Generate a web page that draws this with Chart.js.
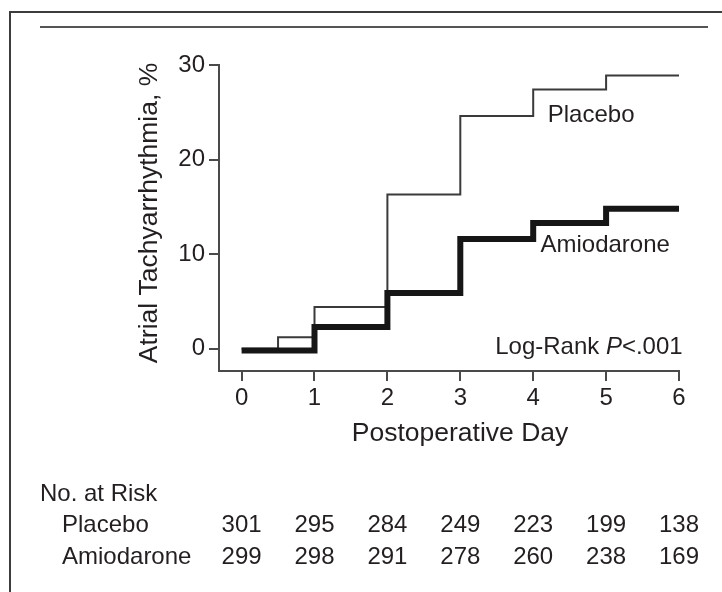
<!DOCTYPE html>
<html>
<head>
<meta charset="utf-8">
<script src="https://cdn.jsdelivr.net/npm/chart.js@4"></script>
<style>
  html, body { margin: 0; padding: 0; background: #fff; }
  #wrap { width: 722px; height: 592px; }
</style>
</head>
<body>
<div id="wrap"><canvas id="km" width="722" height="592"></canvas></div>
<script>
// eixo X: dias de pós-operatório
const days = [0, 1, 2, 3, 4, 5, 6];
const yTicks = [0, 10, 20, 30];

// curvas em degrau (x onde muda, % acumulado)
const placeboX = [0, 0.5, 1, 2, 3, 4, 5, 6];
const placeboPct = [0, 1.2, 4.4, 16.3, 24.6, 27.4, 28.9, 28.9];
const amioX = [0, 1, 2, 3, 4, 5, 6];
const amioPct = [-0.2, 2.3, 5.9, 11.6, 13.3, 14.8, 14.8];

// número em risco
const riskLabels = ['Placebo', 'Amiodarone'];
const riskPlacebo = [301, 295, 284, 249, 223, 199, 138];
const riskAmio = [299, 298, 291, 278, 260, 238, 169];

const FONT = '"Liberation Sans", Arial, Helvetica, sans-serif';
const INK = '#231f20';

const extras = {
  id: 'extras',
  afterDraw(chart) {
    const ctx = chart.ctx;
    const xs = chart.scales.x;
    const ys = chart.scales.y;
    ctx.save();

    // moldura e régua do topo
    ctx.strokeStyle = '#3c3c3c';
    ctx.lineWidth = 2;
    ctx.beginPath();
    ctx.moveTo(10, 592);
    ctx.lineTo(10, 12);
    ctx.lineTo(722, 12);
    ctx.stroke();
    ctx.strokeStyle = '#555';
    ctx.beginPath();
    ctx.moveTo(40, 27);
    ctx.lineTo(708, 27);
    ctx.stroke();

    ctx.fillStyle = INK;
    ctx.textBaseline = 'alphabetic';

    // títulos dos eixos
    ctx.font = '26.5px ' + FONT;
    ctx.textAlign = 'center';
    ctx.fillText('Postoperative Day', 460, 441);
    ctx.save();
    ctx.translate(157, 213);
    ctx.rotate(-Math.PI / 2);
    ctx.fillText('Atrial Tachyarrhythmia, %', 0, 0);
    ctx.restore();

    // rótulos das curvas
    ctx.font = '24px ' + FONT;
    ctx.textAlign = 'left';
    ctx.fillText('Placebo', xs.getPixelForValue(4.2), ys.getPixelForValue(24.0));
    ctx.fillText('Amiodarone', xs.getPixelForValue(4.1), ys.getPixelForValue(10.2));

    // Log-Rank P<.001 (P em itálico)
    const right = xs.getPixelForValue(6.05);
    const by = ys.getPixelForValue(-0.56);
    const normal = '24px ' + FONT;
    const italic = 'italic 24px ' + FONT;
    ctx.font = normal;
    const w1 = ctx.measureText('Log-Rank ').width;
    const w3 = ctx.measureText('<.001').width;
    ctx.font = italic;
    const w2 = ctx.measureText('P').width;
    let x0 = right - (w1 + w2 + w3);
    ctx.font = normal;
    ctx.fillText('Log-Rank ', x0, by);
    ctx.font = italic;
    ctx.fillText('P', x0 + w1, by);
    ctx.font = normal;
    ctx.fillText('<.001', x0 + w1 + w2, by);

    // tabela de número em risco
    ctx.fillText('No. at Risk', 40, 501);
    ctx.fillText(riskLabels[0], 62, 532);
    ctx.fillText(riskLabels[1], 62, 564);
    ctx.textAlign = 'center';
    days.forEach((d, i) => {
      const px = xs.getPixelForValue(d);
      ctx.fillText(String(riskPlacebo[i]), px, 532);
      ctx.fillText(String(riskAmio[i]), px, 564);
    });

    ctx.restore();
  }
};

const ctx = document.getElementById('km');
const myChart = new Chart(ctx, {
  type: 'line',
  data: {
    datasets: [
      {
        label: 'Amiodarone',
        data: amioX.map((x, i) => ({ x: x, y: amioPct[i] })),
        stepped: 'before',
        borderColor: '#161616',
        borderWidth: 6,
        borderJoinStyle: 'miter',
        pointRadius: 0,
        fill: false,
        clip: false,
      },
      {
        label: 'Placebo',
        data: placeboX.map((x, i) => ({ x: x, y: placeboPct[i] })),
        stepped: 'before',
        borderColor: '#3a3a3a',
        borderWidth: 2,
        borderJoinStyle: 'miter',
        pointRadius: 0,
        fill: false,
        clip: false,
      },
    ],
  },
  options: {
    responsive: false,
    animation: false,
    devicePixelRatio: 1,
    layout: { padding: { left: 0, top: 65, right: 43, bottom: 0 } },
    plugins: {
      legend: { display: false },
      tooltip: { enabled: false },
    },
    scales: {
      x: {
        type: 'linear',
        min: -0.31,
        max: 6,
        afterBuildTicks: (scale) => { scale.ticks = days.map(v => ({ value: v })); },
        afterFit: (scale) => { scale.height = 592 - 371; },
        border: { display: true, color: '#4a4a4a', width: 2 },
        grid: { display: true, drawOnChartArea: false, drawTicks: true, tickLength: 10, color: '#4a4a4a', lineWidth: 2 },
        ticks: { color: INK, padding: 3, maxRotation: 0, autoSkip: false, font: { family: FONT, size: 24 } },
      },
      y: {
        type: 'linear',
        min: -2.36,
        max: 30,
        afterBuildTicks: (scale) => { scale.ticks = yTicks.map(v => ({ value: v })); },
        afterFit: (scale) => { scale.width = 219; },
        border: { display: true, color: '#4a4a4a', width: 2 },
        grid: { display: true, drawOnChartArea: false, drawTicks: true, tickLength: 10, color: '#4a4a4a', lineWidth: 2 },
        ticks: { color: INK, padding: 4, font: { family: FONT, size: 24 } },
      },
    },
  },
  plugins: [extras],
});
</script>
</body>
</html>
